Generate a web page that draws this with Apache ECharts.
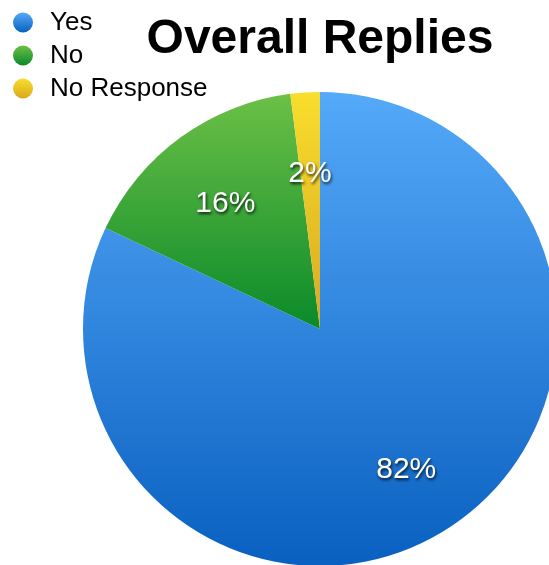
<!DOCTYPE html>
<html>
<head>
<meta charset="utf-8">
<script src="https://cdn.jsdelivr.net/npm/echarts@6/dist/echarts.min.js"></script>
<style>
  html, body { margin: 0; padding: 0; background: #ffffff; }
  #chart { width: 549px; height: 565px; }
</style>
</head>
<body>
<div id="chart"></div>
<script>
// Reply categories and their shares (percent)
const categories = ['Yes', 'No', 'No Response'];
const shares = [82, 16, 2];

// Top/bottom shades of each slice's vertical gradient
const topColors = ['#55a9f9', '#6cc046', '#f8de2c'];
const bottomColors = ['#0a60c0', '#0a8a2a', '#d9a81f'];

function grad(i) {
  return new echarts.graphic.LinearGradient(0, 0, 0, 1, [
    { offset: 0, color: topColors[i] },
    { offset: 1, color: bottomColors[i] }
  ]);
}

const chart = echarts.init(document.getElementById('chart'), null, { renderer: 'canvas' });

const center = [320, 329];
const outerR = 237;
const fontFamily = '"Liberation Sans", Arial, Helvetica, sans-serif';

const sliceData = categories.map((name, i) => ({
  name: name,
  value: shares[i],
  itemStyle: { color: grad(i) }
}));

// Transparent ring that only carries the percentage labels, placed at ~2/3 radius
const labelData = categories.map((name, i) => ({
  name: name,
  value: shares[i]
}));

chart.setOption({
  animation: false,
  title: {
    text: 'Overall Replies',
    left: 315,
    textAlign: 'center',
    top: 11,
    textStyle: {
      fontFamily: fontFamily,
      fontWeight: 'bold',
      fontSize: 48,
      color: '#000000'
    }
  },
  legend: {
    orient: 'vertical',
    left: 13,
    top: 9,
    padding: 0,
    itemWidth: 20,
    itemHeight: 20,
    itemGap: 6,
    icon: 'circle',
    data: categories.map((name, i) => ({ name: name, itemStyle: { color: grad(i) } })),
    textStyle: {
      fontFamily: fontFamily,
      fontSize: 26,
      lineHeight: 27,
      color: '#000000',
      padding: [0, 0, 0, 12]
    }
  },
  series: [
    {
      name: 'Replies',
      type: 'pie',
      center: center,
      radius: [0, outerR],
      startAngle: 90,
      clockwise: true,
      label: { show: false },
      labelLine: { show: false },
      emphasis: { disabled: true },
      data: sliceData
    },
    {
      name: 'Labels',
      type: 'pie',
      center: center,
      radius: [79, outerR],
      startAngle: 90,
      clockwise: true,
      silent: true,
      legendHoverLink: false,
      itemStyle: { color: 'rgba(0,0,0,0)' },
      label: {
        show: true,
        position: 'inside',
        formatter: '{c}%',
        fontFamily: fontFamily,
        fontSize: 30,
        color: '#ffffff',
        textShadowColor: 'rgba(0,0,0,0.8)',
        textShadowBlur: 3,
        textShadowOffsetX: 1,
        textShadowOffsetY: 2
      },
      labelLayout: { dy: 5 },
      labelLine: { show: false },
      emphasis: { disabled: true },
      data: labelData
    }
  ]
});
</script>
</body>
</html>
